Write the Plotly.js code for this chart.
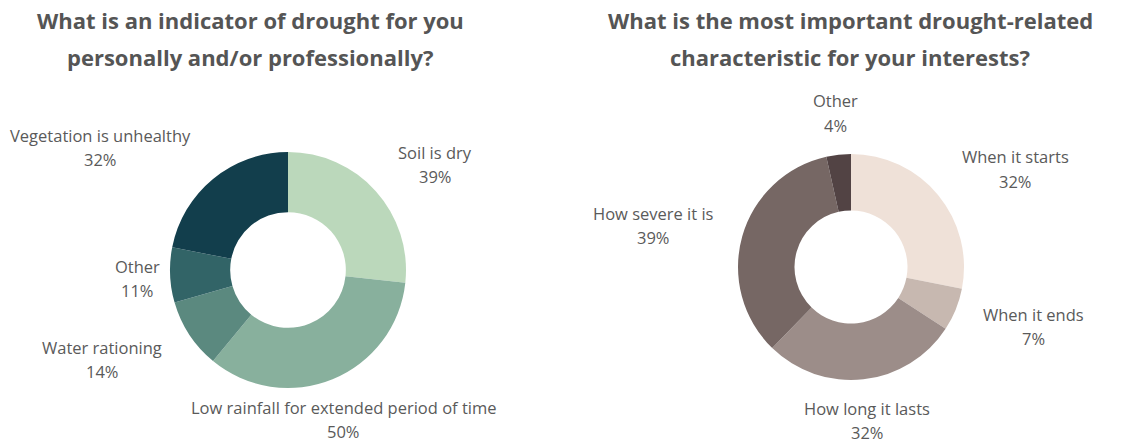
<!DOCTYPE html>
<html>
<head>
<meta charset="utf-8">
<script src="https://cdn.plot.ly/plotly-3.0.1.min.js"></script>
<style>html,body{margin:0;padding:0;background:#fff;}#chart{width:1134px;height:445px;}</style>
</head>
<body>
<div id="chart"></div>
<script>
// Data
const leftTitleLines = ["What is an indicator of drought for you", "personally and/or professionally?"];
const leftLabels = ["Soil is dry", "Low rainfall for extended period of time", "Water rationing", "Other", "Vegetation is unhealthy"];
const leftValues = [39, 50, 14, 11, 32];
const leftColors = ["#bbd8bb", "#88b09d", "#5b897f", "#326467", "#123e4c"];

const rightTitleLines = ["What is the most important drought-related", "characteristic for your interests?"];
const rightLabels = ["When it starts", "When it ends", "How long it lasts", "How severe it is", "Other"];
const rightValues = [32, 7, 32, 39, 4];
const rightColors = ["#efe1d8", "#c7b8b0", "#9c8d89", "#766764", "#524344"];

// Label placement (paper pixels from top-left, first line centre), not data
const W = 1134, H = 445;
const leftLabelPos = [[435, 152], [343, 407], [102, 347], [137, 266], [100, 135]];
const rightLabelPos = [[1015, 157], [1033, 314], [867, 408], [653, 213], [835, 101]];
const labelGap = 24.5;

const font = "Open Sans, Noto Sans, sans-serif";
const txtColor = "#5a5a5a";

function dom(cx, cy, r) {
  return {x: [(cx - r) / W, (cx + r) / W], y: [(H - cy - r) / H, (H - cy + r) / H]};
}

const traces = [
  {type: "pie", labels: leftLabels, values: leftValues, marker: {colors: leftColors, line: {width: 0}},
   hole: 0.49, sort: false, direction: "clockwise", rotation: 0, textinfo: "none",
   domain: dom(288, 270, 118), showlegend: false},
  {type: "pie", labels: rightLabels, values: rightValues, marker: {colors: rightColors, line: {width: 0}},
   hole: 0.5, sort: false, direction: "clockwise", rotation: 0, textinfo: "none",
   domain: dom(851, 267, 113), showlegend: false}
];

const annotations = [];
function addText(txt, px, py, size, bold, color) {
  annotations.push({xref: "paper", yref: "paper", x: px / W, y: 1 - py / H,
    xanchor: "center", yanchor: "middle", showarrow: false,
    text: bold ? "<b>" + txt + "</b>" : txt,
    font: {family: font, size: size, color: color}});
}
function addLabels(labels, values, pos) {
  labels.forEach((l, i) => {
    addText(l, pos[i][0], pos[i][1], 16.5, false, txtColor);
    addText(values[i] + "%", pos[i][0], pos[i][1] + labelGap, 16.5, false, txtColor);
  });
}
addLabels(leftLabels, leftValues, leftLabelPos);
addLabels(rightLabels, rightValues, rightLabelPos);

leftTitleLines.forEach((t, i) => addText(t, 250, 20 + 37 * i, 22, true, "#555555"));
rightTitleLines.forEach((t, i) => addText(t, 850, 20 + 37 * i, 22, true, "#555555"));

const layout = {
  width: W, height: H, margin: {l: 0, r: 0, t: 0, b: 0},
  paper_bgcolor: "#ffffff", plot_bgcolor: "#ffffff",
  annotations: annotations, showlegend: false
};

Plotly.newPlot("chart", traces, layout, {displayModeBar: false, staticPlot: true});
</script>
</body>
</html>
